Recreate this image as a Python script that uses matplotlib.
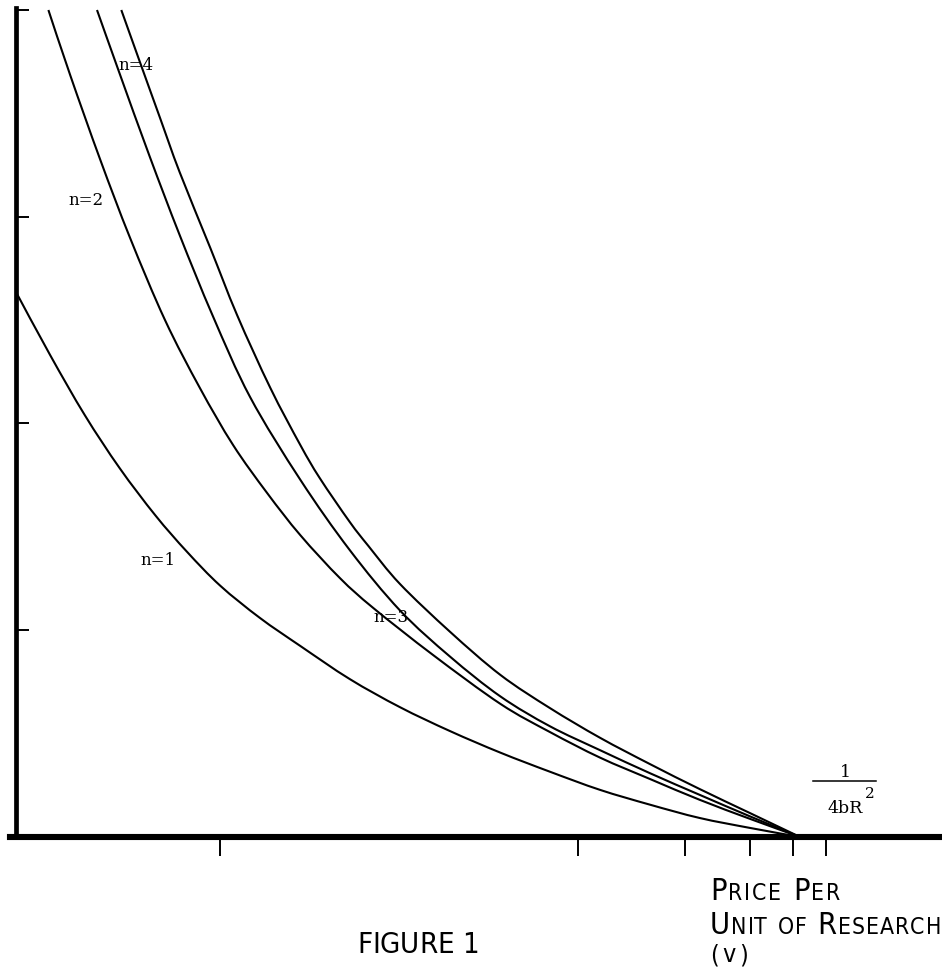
import matplotlib
matplotlib.use("Agg")
import matplotlib.pyplot as plt
from matplotlib.lines import Line2D
from matplotlib.path import Path
from matplotlib.patches import PathPatch
from matplotlib import font_manager
from matplotlib.font_manager import FontProperties

# ---------------- data (x in units of 1/(4bR^2), y normalised) ----------------
n1_x = [0.000, 0.042, 0.085, 0.128, 0.172, 0.211, 0.252, 0.301, 0.351, 0.412,
        0.474, 0.536, 0.598, 0.659, 0.721, 0.783, 0.844, 0.906, 0.968]
n1_y = [0.659, 0.583, 0.510, 0.446, 0.389, 0.345, 0.304, 0.265, 0.231, 0.191,
        0.157, 0.128, 0.102, 0.079, 0.057, 0.039, 0.023, 0.011, 0.000]

n2_x = [0.040, 0.067, 0.104, 0.141, 0.184, 0.227, 0.268, 0.310, 0.351, 0.400,
        0.441, 0.515, 0.598, 0.659, 0.721, 0.783, 0.844, 0.906, 0.968]
n2_y = [1.000, 0.921, 0.819, 0.724, 0.625, 0.543, 0.474, 0.416, 0.365, 0.313,
        0.277, 0.220, 0.161, 0.127, 0.096, 0.070, 0.045, 0.022, 0.000]

n3_x = [0.100, 0.128, 0.165, 0.202, 0.243, 0.289, 0.351, 0.412, 0.474, 0.536,
        0.598, 0.659, 0.721, 0.783, 0.844, 0.906, 0.968]
n3_y = [1.000, 0.923, 0.823, 0.728, 0.630, 0.532, 0.432, 0.347, 0.274, 0.218,
        0.170, 0.134, 0.105, 0.077, 0.051, 0.025, 0.000]

n4_x = [0.130, 0.153, 0.178, 0.202, 0.240, 0.273, 0.314, 0.351, 0.375, 0.412,
        0.435, 0.474, 0.536, 0.598, 0.659, 0.721, 0.783, 0.844, 0.906, 0.968]
n4_y = [1.000, 0.937, 0.869, 0.804, 0.712, 0.631, 0.543, 0.474, 0.434, 0.381,
        0.352, 0.306, 0.248, 0.196, 0.156, 0.120, 0.088, 0.058, 0.029, 0.000]

x_ticks = [0.252, 0.694, 0.826, 0.906, 0.959, 1.000]
y_ticks = [0.25, 0.50, 0.75, 1.00]

curve_labels = ["n=1", "n=2", "n=3", "n=4"]
xlabel_lines = ["Price Per", "Unit of Research"]
figure_title = "FIGURE 1"

# ---------------- figure ----------------
W, H = 942, 972
fig = plt.figure(figsize=(W / 100, H / 100), dpi=100)
ax = fig.add_axes([0, 0, 1, 1])
ax.set_xlim(-16 / 810, 926 / 810)
ax.set_ylim(-135 / 827, 837 / 827)
renderer = fig.canvas.get_renderer()


def P(px, py):
    return px / W, 1 - py / H


def smooth_path(xs, ys):
    """Cubic Bezier path through the given points (Catmull-Rom tangents)."""
    pts = list(zip(xs, ys))
    n = len(pts)
    verts = [pts[0]]
    codes = [Path.MOVETO]
    for i in range(n - 1):
        p0 = pts[i - 1] if i > 0 else pts[i]
        p1 = pts[i]
        p2 = pts[i + 1]
        p3 = pts[i + 2] if i + 2 < n else pts[i + 1]
        c1 = (p1[0] + (p2[0] - p0[0]) / 6, p1[1] + (p2[1] - p0[1]) / 6)
        c2 = (p2[0] - (p3[0] - p1[0]) / 6, p2[1] - (p3[1] - p1[1]) / 6)
        verts += [c1, c2, p2]
        codes += [Path.CURVE4] * 3
    return Path(verts, codes)


for xs, ys in [(n1_x, n1_y), (n2_x, n2_y), (n3_x, n3_y), (n4_x, n4_y)]:
    ax.add_patch(PathPatch(smooth_path(xs, ys), fill=False, edgecolor="black",
                           lw=1.5, zorder=3, transform=ax.transData))

for s in ["top", "right"]:
    ax.spines[s].set_visible(False)
ax.spines["left"].set_position(("data", 0))
ax.spines["bottom"].set_position(("data", 0))
ax.spines["left"].set_bounds(0, 1.002)
ax.spines["bottom"].set_bounds(-0.0074, 926 / 810)
ax.spines["left"].set_linewidth(3.4)
ax.spines["bottom"].set_linewidth(4.4)

ax.set_xticks(x_ticks)
ax.set_yticks(y_ticks)
ax.tick_params(axis="x", direction="out", length=14, width=1.4, color="black",
               labelbottom=False)
ax.tick_params(axis="y", direction="in", length=9, width=1.4, color="black",
               labelleft=False)

# curve labels
serif = "DejaVu Serif"
lab_pos = [(140, 565), (68, 205), (373, 622), (118, 70)]
for lab, (px, py) in zip(curve_labels, lab_pos):
    fig.text(*P(px, py), lab, ha="left", va="baseline", family=serif,
             fontsize=12, zorder=5)

# 1 / 4bR^2 label
fig.text(*P(845, 777), "1", ha="center", va="baseline", family=serif, fontsize=12.5)
fig.add_artist(Line2D([813 / W, 876 / W], [1 - 781 / H] * 2,
                      transform=fig.transFigure, color="black", lw=1.1))
fig.text(*P(827, 813), "4bR", ha="left", va="baseline", family=serif, fontsize=12.5)
fig.text(*P(865, 798), "2", ha="left", va="baseline", family=serif, fontsize=11)

# condensed sans for the typewriter-style captions, if one is installed
capfile = None
wanted = ["LiberationSansNarrow-Regular", "DejaVuSansCondensed.ttf",
          "RobotoCondensed-Regular", "Roboto_Condensed-Regular"]
for key in wanted:
    hits = [f.fname for f in font_manager.fontManager.ttflist if key in f.fname]
    if hits:
        capfile = hits[0]
        break


def fprops(size):
    if capfile:
        return FontProperties(fname=capfile, size=size)
    return FontProperties(family="DejaVu Sans", size=size)


def typeset(text, x_left, x_right, py, big, small, keep_lower=False):
    """Small caps: lay glyphs left to right, spread to span x_left..x_right."""
    pieces = []
    for ch in text:
        if ch.isalpha() and ch.islower() and not keep_lower:
            pieces.append((ch.upper(), small))
        else:
            pieces.append((ch, big))
    arts, widths = [], []
    for c, sz in pieces:
        t = fig.text(0, 0, c if c != " " else "\u00a0", ha="left", va="baseline",
                     fontproperties=fprops(sz))
        bb = t.get_window_extent(renderer)
        arts.append(t)
        widths.append(bb.width)
    natural = sum(widths)
    track = 0.0
    if x_right is not None and len(pieces) > 1:
        track = max(0.0, (x_right - x_left - natural) / (len(pieces) - 1))
    x = x_left
    for t, w, (c, sz) in zip(arts, widths, pieces):
        if c == " ":
            t.remove()
        else:
            t.set_position(P(x, py))
        x += w + track


typeset(xlabel_lines[0], 710, 840, 900, 22, 16.5)
typeset(xlabel_lines[1], 710, 941, 934, 22, 16.5)
typeset("(v)", 710, 748, 962, 18, 18, keep_lower=True)
typeset(figure_title, 357, 473, 953, 21, 21)

fig.savefig("out.png", dpi=100)
